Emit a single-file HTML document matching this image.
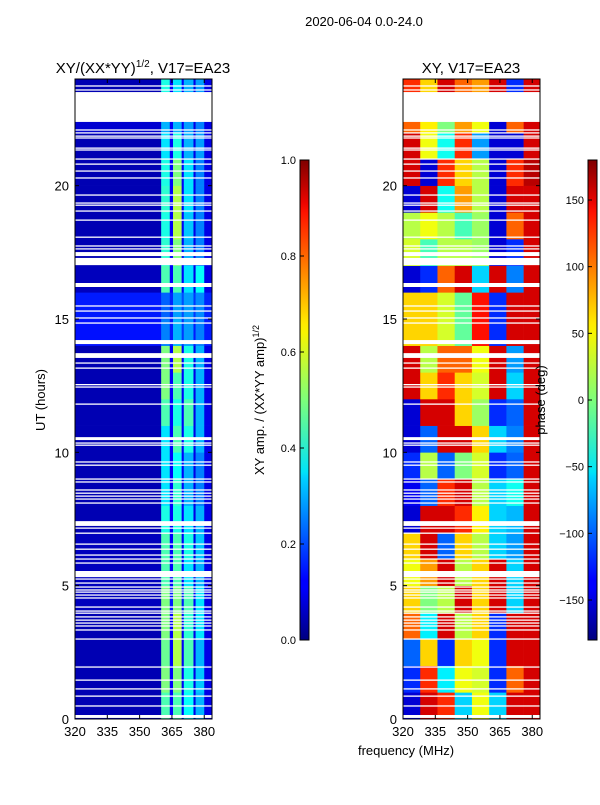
<!DOCTYPE html>
<html><head><meta charset="utf-8"><style>
body{margin:0;background:#fff;font-family:"Liberation Sans",sans-serif;}
svg text{font-family:"Liberation Sans",sans-serif;fill:#000;}
</style></head><body>
<svg id="fig" width="600" height="800" viewBox="0 0 600 800" xmlns="http://www.w3.org/2000/svg">
<defs>
<linearGradient id="jet" x1="0" y1="1" x2="0" y2="0">
<stop offset="0" stop-color="#00007f"/><stop offset="0.11" stop-color="#0000ff"/><stop offset="0.125" stop-color="#0000ff"/>
<stop offset="0.34" stop-color="#00d4ff"/><stop offset="0.35" stop-color="#00e4f8"/><stop offset="0.5" stop-color="#7dff7a"/>
<stop offset="0.64" stop-color="#f8f500"/><stop offset="0.66" stop-color="#ffea00"/><stop offset="0.89" stop-color="#ff1300"/>
<stop offset="0.91" stop-color="#ed0400"/><stop offset="1" stop-color="#7f0000"/>
</linearGradient>
</defs>
<text x="364" y="26" font-size="13" text-anchor="middle">2020-06-04 0.0-24.0</text>
<text x="143" y="73" font-size="15" text-anchor="middle">XY/(XX*YY)<tspan font-size="10" dy="-6">1/2</tspan><tspan dy="6">, V17=EA23</tspan></text>
<text x="471" y="73" font-size="15" text-anchor="middle">XY, V17=EA23</text>
<text transform="translate(45,400) rotate(-90)" font-size="13" text-anchor="middle">UT (hours)</text>
<text x="406" y="755" font-size="13" text-anchor="middle">frequency (MHz)</text>
<text transform="translate(264,400) rotate(-90)" font-size="13" text-anchor="middle">XY amp. / (XX*YY amp)<tspan font-size="9" dy="-5">1/2</tspan></text>
<g id="left"></g>
<g id="right"></g>
<g id="cbars"></g>
<text transform="translate(545,400) rotate(-90)" font-size="13" text-anchor="middle">phase (deg)</text>
</svg>
<script>
// ---- data ----
const ampFreqEdges = [320,360,364,365.5,369.5,370.5,375,376,380,384];
const ampHours = [0,1,2,3,4,5,6,7,8,9,10,11,12,13,14,15,16,17,18,19,20,21,22,23,24];
const ampValues = [
[0.05,0.45,0.12,0.45,0.12,0.38,0.1,0.3,0.1],
[0.05,0.5,0.12,0.5,0.12,0.4,0.1,0.32,0.1],
[0.05,0.48,0.12,0.55,0.12,0.45,0.1,0.3,0.1],
[0.05,0.5,0.12,0.55,0.12,0.42,0.1,0.35,0.1],
[0.06,0.5,0.15,0.5,0.15,0.45,0.12,0.35,0.1],
[0.06,0.45,0.12,0.45,0.12,0.35,0.1,0.3,0.1],
[0.06,0.45,0.12,0.45,0.12,0.4,0.1,0.32,0.1],
[0.05,0.4,0.12,0.4,0.12,0.35,0.1,0.3,0.1],
[0.05,0.35,0.12,0.42,0.12,0.3,0.1,0.25,0.1],
[0.05,0.35,0.12,0.38,0.12,0.3,0.1,0.25,0.1],
[0.05,0.35,0.12,0.45,0.12,0.4,0.1,0.3,0.1],
[0.05,0.45,0.12,0.4,0.12,0.45,0.1,0.3,0.1],
[0.05,0.5,0.12,0.45,0.12,0.4,0.1,0.3,0.1],
[0.05,0.5,0.12,0.55,0.12,0.4,0.1,0.3,0.1],
[0.14,0.25,0.15,0.3,0.18,0.28,0.15,0.25,0.15],
[0.15,0.22,0.16,0.28,0.2,0.28,0.18,0.26,0.16],
[0.06,0.45,0.12,0.45,0.12,0.35,0.1,0.38,0.1],
[0.05,0.42,0.12,0.5,0.12,0.3,0.1,0.25,0.1],
[0.05,0.4,0.12,0.55,0.12,0.32,0.1,0.25,0.1],
[0.05,0.42,0.12,0.55,0.12,0.35,0.1,0.25,0.1],
[0.05,0.4,0.12,0.5,0.12,0.35,0.1,0.25,0.1],
[0.05,0.35,0.12,0.4,0.12,0.3,0.1,0.28,0.1],
[0.08,0.3,0.12,0.3,0.12,0.28,0.1,0.25,0.1],
[0.05,0.4,0.12,0.35,0.12,0.3,0.1,0.28,0.1]];
const phaseFreqEdges = [320,328,336,344,352,360,368,376,384];
const phaseValues = [
[-150,150,120,-60,40,-60,150,150],
[-120,120,-50,40,30,-120,100,150],
[-100,60,-120,60,40,-120,150,150],
[100,-50,150,20,60,-120,150,150],
[60,0,20,150,60,150,-60,150],
[40,80,150,20,60,150,-60,150],
[60,150,-100,60,20,-60,-80,150],
[-150,150,150,120,50,-60,-70,150],
[-140,-100,120,150,20,-60,-40,150],
[-120,20,-100,0,30,-120,-100,150],
[-150,-100,150,150,60,-60,-90,150],
[-150,150,150,60,10,-120,-100,150],
[150,60,120,60,30,150,-60,150],
[150,20,100,100,40,150,-80,150],
[60,60,30,-10,130,-120,150,150],
[60,60,30,-10,130,-120,150,150],
[-150,-120,100,150,-60,150,-90,150],
[30,-20,20,20,10,-150,-120,150],
[20,40,20,-20,10,-150,100,150],
[-150,150,-40,80,20,-150,150,150],
[150,-150,120,60,20,-150,120,160],
[150,40,-40,120,-80,-150,-150,150],
[100,50,0,80,40,-150,100,150],
[120,60,150,100,80,150,-120,150]];
const gapBlocks = [[22.39,23.51],[17.36,17.51],[17.02,17.29],[16.2,16.35],[14.06,14.21],[13.54,13.72],[10.46,10.57],[7.24,7.42],[5.32,5.55],[0.04,0.15]];
const thinLines = [23.74,23.59,22.09,21.98,21.86,21.79,21.41,21.34,21.0,20.81,20.55,20.29,19.65,19.35,19.27,19.05,18.71,18.07,17.74,17.63,15.49,15.3,15.04,14.85,13.35,13.16,12.54,12.45,11.81,10.35,10.27,9.64,9.52,9.0,8.89,8.59,8.47,8.36,8.25,8.1,7.16,6.97,6.56,6.37,6.15,6.0,5.85,5.25,5.1,4.95,4.84,4.76,4.65,4.54,4.2,4.05,3.97,3.83,3.71,3.6,3.49,3.34,3.0,1.95,1.46,1.13,0.86,0.49];
const xTicks = [320,335,350,365,380];
const yTicks = [0,5,10,15,20];
const ampTicks = [0.0,0.2,0.4,0.6,0.8,1.0];
const phaseTicks = [-150,-100,-50,0,50,100,150];

// ---- axes ----
const NS='http://www.w3.org/2000/svg';
const Y0=719, Y1=79, X0L=75, X0R=403, PW=137;
function yScale(h){return Y0-(h/24)*(Y0-Y1);}
function xScale(f,x0){return x0+(f-320)/(383.6-320)*PW;}
function jet(v){v=Math.max(0,Math.min(1,v));
 const r=Math.max(0,Math.min(1,1.5-Math.abs(4*v-3)));
 const g=Math.max(0,Math.min(1,1.5-Math.abs(4*v-2)));
 const b=Math.max(0,Math.min(1,1.5-Math.abs(4*v-1)));
 return `rgb(${Math.round(r*255)},${Math.round(g*255)},${Math.round(b*255)})`;}
function mk(tag,attrs,parent){const e=document.createElementNS(NS,tag);for(const k in attrs)e.setAttribute(k,attrs[k]);parent.appendChild(e);return e;}

function drawPanel(g,x0,edges,vals,norm){
 for(let i=0;i<vals.length;i++){
  for(let j=0;j<vals[i].length;j++){
   const xa=xScale(edges[j],x0), xb=Math.min(xScale(edges[j+1],x0),x0+PW);
   const ya=yScale(ampHours[i+1]), yb=yScale(ampHours[i]);
   const r=mk('rect',{x:xa,y:ya,width:xb-xa+0.3,height:yb-ya+0.3,fill:jet(norm(vals[i][j]))},g);
   
   
  }
 }
 for(const b of gapBlocks){
  const r=mk('rect',{x:x0,y:yScale(b[1]),width:PW,height:yScale(b[0])-yScale(b[1]),fill:'#fff'},g);
  
  
 }
 for(const t of thinLines){
  const r=mk('rect',{x:x0,y:yScale(t)-0.6,width:PW,height:1.3,fill:'#fff'},g);
  
  
 }
 const fr=mk('rect',{x:x0,y:Y1,width:PW,height:Y0-Y1,fill:'none',stroke:'#000','stroke-width':1},g);
 
 
 for(const t of xTicks){
  const x=xScale(t,x0);
  mk('line',{x1:x,x2:x,y1:Y0,y2:Y0-4,stroke:'#000'},g);
  mk('line',{x1:x,x2:x,y1:Y1,y2:Y1+4,stroke:'#000'},g);
  const tx=mk('text',{x:x,y:Y0+17,'font-size':13,'text-anchor':'middle'},g);tx.textContent=t;
  
  
 }
 for(const t of yTicks){
  const y=yScale(t);
  mk('line',{x1:x0,x2:x0+4,y1:y,y2:y,stroke:'#000'},g);
  mk('line',{x1:x0+PW,x2:x0+PW-4,y1:y,y2:y,stroke:'#000'},g);
  const tx=mk('text',{x:x0-6,y:y+5,'font-size':13,'text-anchor':'end'},g);tx.textContent=t;
  
  
 }
}
drawPanel(document.getElementById('left'),X0L,ampFreqEdges,ampValues,v=>v);
drawPanel(document.getElementById('right'),X0R,phaseFreqEdges,phaseValues,v=>(v+180)/360);

// colorbars
const cb=document.getElementById('cbars');
const CT=160, CB=640;
function drawBar(x,ticks,lo,hi,fmt,name){
 const r=mk('rect',{x:x,y:CT,width:9,height:CB-CT,fill:'url(#jet)',stroke:'#000','stroke-width':1},cb);
 
 
 for(const t of ticks){
  const y=CB-(t-lo)/(hi-lo)*(CB-CT);
  mk('line',{x1:x,x2:x+4,y1:y,y2:y,stroke:'#000'},cb);
  const tx=mk('text',{x:x-4,y:y+4,'font-size':11,'text-anchor':'end'},cb);tx.textContent=fmt(t);
  
  
 }
}
drawBar(300,ampTicks,0,1,t=>t.toFixed(1),'amp-colorbar');
drawBar(588,phaseTicks,-180,180,t=>t<0?'\u2212'+(-t):String(t),'phase-colorbar');
</script>
</body></html>
